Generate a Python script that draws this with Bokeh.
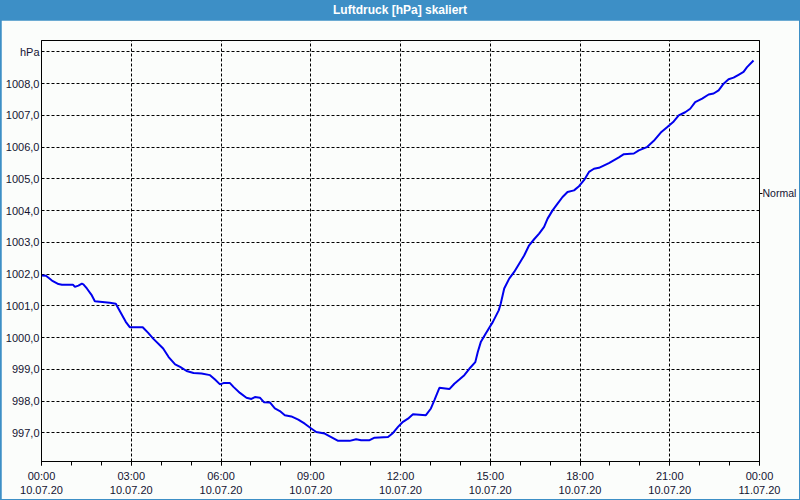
from bokeh.plotting import figure
from bokeh.models import Range1d, FixedTicker, LinearAxis, Div, ColumnDataSource
from bokeh.layouts import column
from bokeh.embed import file_html
from bokeh.resources import INLINE

# ---- data ----
title_text = "Luftdruck [hPa] skaliert"
minutes = [0, 9, 21, 34, 41, 63, 67, 74, 81, 84, 91, 101, 107, 137, 149, 157, 169, 177,
           203, 214, 224, 244, 255, 268, 278, 291, 305, 321, 338, 348, 358, 365, 378, 385,
           398, 411, 421, 428, 438, 446, 458, 468, 478, 488, 501, 515, 528, 541, 551, 568,
           581, 595, 618, 631, 641, 658, 668, 695, 705, 715, 725, 735, 745, 771, 781, 788,
           798, 818, 828, 838, 848, 858, 870, 875, 881, 891, 905, 917, 921, 928, 938, 948,
           958, 968, 978, 988, 998, 1008, 1015, 1025, 1035, 1045, 1055, 1068, 1078, 1088,
           1098, 1108, 1118, 1138, 1158, 1168, 1188, 1198, 1214, 1228, 1242, 1254, 1268,
           1278, 1291, 1301, 1311, 1325, 1338, 1348, 1358, 1368, 1378, 1388, 1398, 1408,
           1415, 1428]
pressure_hpa = [1001.96, 1001.95, 1001.80, 1001.69, 1001.67, 1001.67, 1001.60, 1001.64,
                1001.70, 1001.68, 1001.55, 1001.33, 1001.15, 1001.10, 1001.07, 1000.84,
                1000.50, 1000.33, 1000.33, 1000.15, 999.97, 999.66, 999.39, 999.16, 999.08,
                998.95, 998.89, 998.87, 998.82, 998.68, 998.53, 998.57, 998.57, 998.45,
                998.26, 998.11, 998.07, 998.13, 998.11, 997.97, 997.96, 997.77, 997.69,
                997.56, 997.52, 997.42, 997.29, 997.14, 997.03, 996.98, 996.87, 996.75,
                996.75, 996.80, 996.77, 996.77, 996.85, 996.87, 997.00, 997.19, 997.35,
                997.45, 997.59, 997.56, 997.77, 998.03, 998.42, 998.38, 998.55, 998.68,
                998.82, 999.02, 999.23, 999.55, 999.86, 1000.13, 1000.49, 1000.86, 1001.07,
                1001.55, 1001.86, 1002.07, 1002.33, 1002.59, 1002.91, 1003.10, 1003.28,
                1003.49, 1003.75, 1004.01, 1004.22, 1004.43, 1004.59, 1004.64, 1004.77,
                1004.96, 1005.22, 1005.32, 1005.35, 1005.50, 1005.68, 1005.78, 1005.80,
                1005.90, 1006.00, 1006.20, 1006.46, 1006.62, 1006.81, 1007.00, 1007.10,
                1007.21, 1007.42, 1007.53, 1007.66, 1007.69, 1007.79, 1008.00, 1008.14,
                1008.19, 1008.28, 1008.37, 1008.52, 1008.73]
x_tick_hours = [0, 3, 6, 9, 12, 15, 18, 21, 24]
x_tick_labels = ["00:00\n10.07.20", "03:00\n10.07.20", "06:00\n10.07.20", "09:00\n10.07.20",
                 "12:00\n10.07.20", "15:00\n10.07.20", "18:00\n10.07.20", "21:00\n10.07.20",
                 "00:00\n11.07.20"]
y_ticks = [997, 998, 999, 1000, 1001, 1002, 1003, 1004, 1005, 1006, 1007, 1008, 1009]
y_tick_labels = ["997,0", "998,0", "999,0", "1000,0", "1001,0", "1002,0", "1003,0",
                 "1004,0", "1005,0", "1006,0", "1007,0", "1008,0", "hPa"]
normal_level = 1004.55
normal_label = "Normal"

BLUE_BAR = "#3d8fc6"
BG = "#fbfdfb"
FONT = "Liberation Sans"
TXT = "#141432"

src = ColumnDataSource(dict(hours=[m / 60 for m in minutes], p=pressure_hpa))

p = figure(width=798, height=479, output_backend="svg", toolbar_location=None,
           x_range=Range1d(0, 24), y_range=Range1d(996.10, 1009.36),
           min_border_left=40, min_border_right=38, min_border_top=20, min_border_bottom=38,
           background_fill_color=BG, border_fill_color=BG, margin=(0, 1, 1, 1))
p.outline_line_color = "black"
p.outline_line_width = 1

xt = FixedTicker(ticks=x_tick_hours, minor_ticks=list(range(25)))
yt = FixedTicker(ticks=y_ticks, minor_ticks=[])
p.xaxis.ticker = xt
p.yaxis.ticker = yt
p.xgrid.ticker = xt
p.ygrid.ticker = yt
for g in (p.xgrid, p.ygrid):
    g.grid_line_color = "black"
    g.grid_line_dash = "3 2"
    g.grid_line_width = 1

p.xaxis.major_label_overrides = {h: l for h, l in zip(x_tick_hours, x_tick_labels)}
p.yaxis.major_label_overrides = {t: l for t, l in zip(y_ticks, y_tick_labels)}

for ax in (p.xaxis, p.yaxis):
    ax.axis_line_color = "black"
    ax.major_label_text_font = FONT
    ax.major_label_text_font_size = "11px"
    ax.major_label_text_color = TXT
    ax.major_tick_in = 0
    ax.minor_tick_in = 0

p.xaxis.major_tick_out = 4
p.xaxis.minor_tick_out = 4
p.xaxis.major_tick_line_color = "black"
p.xaxis.minor_tick_line_color = "black"
p.xaxis.major_label_standoff = 4
p.yaxis.major_tick_out = 0
p.yaxis.major_tick_line_color = None
p.yaxis.minor_tick_line_color = None
p.yaxis.major_label_standoff = 2

right = LinearAxis(ticker=FixedTicker(ticks=[normal_level], minor_ticks=[]),
                   major_label_overrides={normal_level: normal_label})
right.axis_line_color = "black"
right.major_tick_in = 0
right.major_tick_out = 3
right.minor_tick_line_color = None
right.major_label_standoff = 0
right.major_label_text_font = FONT
right.major_label_text_font_size = "10.5px"
right.major_label_text_color = TXT
p.add_layout(right, "right")

p.line("hours", "p", source=src, line_color="#0000ee", line_width=2)

title = Div(text=title_text, width=800, height=20, margin=0,
            styles={"background-color": BLUE_BAR, "color": "white", "font-weight": "bold",
                    "text-align": "center", "font-family": FONT, "font-size": "12px",
                    "line-height": "20px"})

layout = column(title, p, spacing=0, margin=0, width=800, height=500,
                styles={"background-color": BLUE_BAR})

open("out.html", "w").write(file_html(layout, INLINE))
